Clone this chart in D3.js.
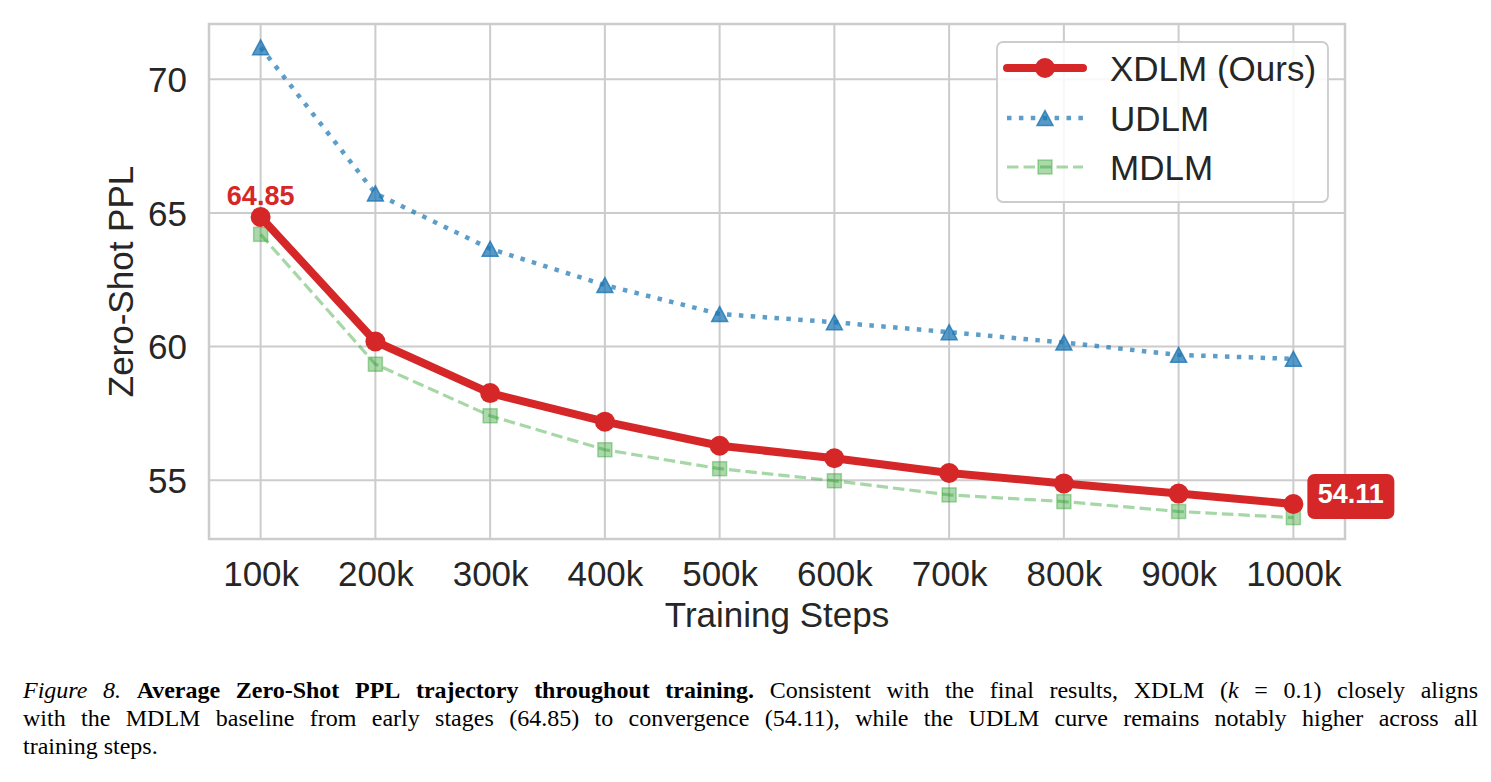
<!DOCTYPE html>
<html>
<head>
<meta charset="utf-8">
<script src="https://cdn.jsdelivr.net/npm/d3@7/dist/d3.min.js"></script>
<style>
  html, body { margin: 0; padding: 0; background: #ffffff; }
  svg { display: block; }
</style>
</head>
<body>
<svg id="chart" width="1491" height="782"></svg>
<script>
// ---------------- DATA ----------------
const steps = [100, 200, 300, 400, 500, 600, 700, 800, 900, 1000]; // thousands
const tickLabels = ["100k", "200k", "300k", "400k", "500k", "600k", "700k", "800k", "900k", "1000k"];
const yTicks = [55, 60, 65, 70];
const xdlm = [64.85, 60.19, 58.26, 57.19, 56.29, 55.82, 55.27, 54.88, 54.50, 54.11];
const udlm = [71.20, 65.73, 63.66, 62.30, 61.22, 60.91, 60.54, 60.15, 59.69, 59.54];
const mdlm = [64.20, 59.34, 57.41, 56.14, 55.43, 54.98, 54.45, 54.20, 53.83, 53.60];
const seriesNames = ["XDLM (Ours)", "UDLM", "MDLM"];
const startLabel = "64.85";
const endLabel = "54.11";
const xTitle = "Training Steps";
const yTitle = "Zero-Shot PPL";
const captionLines = [
  [{t: "Figure 8.", s: "italic"},
   {t: " Average Zero-Shot PPL trajectory throughout training.", s: "bold"},
   {t: " Consistent with the final results, XDLM (", s: "normal"},
   {t: "k", s: "italic"},
   {t: " = 0.1) closely aligns", s: "normal"}],
  [{t: "with the MDLM baseline from early stages (64.85) to convergence (54.11), while the UDLM curve remains notably higher across all", s: "normal"}],
  [{t: "training steps.", s: "normal"}]
];

// ---------------- LAYOUT ----------------
const svg = d3.select("#chart");
const L = 209, R = 1345, T = 24, B = 539;
const x = d3.scaleLinear().domain([55, 1045]).range([L, R]);
const y = d3.scaleLinear().domain([52.80, 72.07]).range([B, T]);

const RED = "#d62728", BLUE = "#1f77b4", GREEN = "#2ca02c";
const GRID = "#cccccc", TXT = "#262626";
const SANS = "'Liberation Sans', Arial, Helvetica, sans-serif";
const SERIF = "'Liberation Serif', 'Times New Roman', Times, serif";

// grid
const g = svg.append("g");
g.append("g").selectAll("line").data(steps).join("line")
  .attr("x1", d => x(d)).attr("x2", d => x(d))
  .attr("y1", T).attr("y2", B)
  .attr("stroke", GRID).attr("stroke-width", 2);
g.append("g").selectAll("line").data(yTicks).join("line")
  .attr("x1", L).attr("x2", R)
  .attr("y1", d => y(d)).attr("y2", d => y(d))
  .attr("stroke", GRID).attr("stroke-width", 2);

// axes (tick labels via d3 axes, no tick marks)
const xAxis = d3.axisBottom(x).tickValues(steps).tickFormat((d, i) => tickLabels[i]).tickSize(0).tickPadding(22);
const yAxis = d3.axisLeft(y).tickValues(yTicks).tickFormat(d3.format("d")).tickSize(0).tickPadding(22);
const gx = svg.append("g").attr("transform", `translate(0,${B})`).call(xAxis);
const gy = svg.append("g").attr("transform", `translate(${L},0)`).call(yAxis);
[gx, gy].forEach(a => {
  a.select(".domain").remove();
  a.selectAll("text").attr("font-family", SANS).attr("font-size", 35).attr("fill", TXT);
});
gx.selectAll("text").attr("dy", "0.71em");
gy.selectAll("text").attr("dy", "0.35em");

// frame
svg.append("rect").attr("x", L).attr("y", T).attr("width", R - L).attr("height", B - T)
  .attr("fill", "none").attr("stroke", GRID).attr("stroke-width", 2.5);

// axis titles
svg.append("text").attr("x", (L + R) / 2).attr("y", 627).attr("text-anchor", "middle")
  .attr("font-family", SANS).attr("font-size", 35).attr("fill", TXT).text(xTitle);
svg.append("text").attr("transform", `translate(133,${(T + B) / 2}) rotate(-90)`)
  .attr("text-anchor", "middle")
  .attr("font-family", SANS).attr("font-size", 35).attr("fill", TXT).text(yTitle);

// markers
function triPath(cx, cy, w, h) {
  const p = d3.path();
  p.moveTo(cx, cy - h / 2); p.lineTo(cx + w / 2, cy + h / 2); p.lineTo(cx - w / 2, cy + h / 2); p.closePath();
  return p.toString();
}
const line = vals => d3.line().x((d, i) => x(steps[i])).y(d => y(d))(vals);

// MDLM
const gm = svg.append("g");
gm.append("path").attr("d", line(mdlm)).attr("fill", "none").attr("stroke", GREEN)
  .attr("stroke-opacity", 0.42).attr("stroke-width", 3.2).attr("stroke-dasharray", "11.5 5");
gm.selectAll("rect").data(mdlm).join("rect")
  .attr("x", (d, i) => x(steps[i]) - 7).attr("y", d => y(d) - 7).attr("width", 14).attr("height", 14)
  .attr("fill", GREEN).attr("fill-opacity", 0.4).attr("stroke", GREEN).attr("stroke-opacity", 0.4).attr("stroke-width", 1.5);

// UDLM
const gu = svg.append("g");
gu.append("path").attr("d", line(udlm)).attr("fill", "none").attr("stroke", BLUE)
  .attr("stroke-opacity", 0.72).attr("stroke-width", 4.5).attr("stroke-dasharray", "4.5 7.4");
gu.selectAll("path.m").data(udlm).join("path").attr("class", "m")
  .attr("d", (d, i) => triPath(x(steps[i]), y(d), 16, 15))
  .attr("fill", BLUE).attr("fill-opacity", 0.75).attr("stroke", BLUE).attr("stroke-opacity", 0.8).attr("stroke-width", 1.5);

// XDLM
const gr = svg.append("g");
gr.append("path").attr("d", line(xdlm)).attr("fill", "none").attr("stroke", RED)
  .attr("stroke-width", 8).attr("stroke-linejoin", "round").attr("stroke-linecap", "round");
gr.selectAll("circle").data(xdlm).join("circle")
  .attr("cx", (d, i) => x(steps[i])).attr("cy", d => y(d)).attr("r", 10).attr("fill", RED);

// annotations
svg.append("text").attr("x", x(steps[0])).attr("y", y(xdlm[0]) - 12).attr("text-anchor", "middle")
  .attr("font-family", SANS).attr("font-weight", "bold").attr("font-size", 27).attr("fill", RED).text(startLabel);
const ex = x(steps[steps.length - 1]), ey = y(xdlm[xdlm.length - 1]);
svg.append("rect").attr("x", ex + 14).attr("y", ey - 30).attr("width", 87).attr("height", 45).attr("rx", 7)
  .attr("fill", RED);
svg.append("text").attr("x", ex + 14 + 43.5).attr("y", ey - 0.5).attr("text-anchor", "middle")
  .attr("font-family", SANS).attr("font-weight", "bold").attr("font-size", 27).attr("fill", "#ffffff").text(endLabel);

// legend
const lg = svg.append("g");
lg.append("rect").attr("x", 997).attr("y", 42).attr("width", 331).attr("height", 160).attr("rx", 6)
  .attr("fill", "#ffffff").attr("fill-opacity", 0.85).attr("stroke", GRID).attr("stroke-width", 1.8);
const rows = [68, 118, 167];
const lx1 = 1007, lx2 = 1083, lmx = 1045;
// XDLM
lg.append("line").attr("x1", lx1).attr("x2", lx2).attr("y1", rows[0]).attr("y2", rows[0])
  .attr("stroke", RED).attr("stroke-width", 8).attr("stroke-linecap", "round");
lg.append("circle").attr("cx", lmx).attr("cy", rows[0]).attr("r", 10).attr("fill", RED);
// UDLM
lg.append("line").attr("x1", lx1).attr("x2", lx2).attr("y1", rows[1]).attr("y2", rows[1])
  .attr("stroke", BLUE).attr("stroke-opacity", 0.72).attr("stroke-width", 4.5).attr("stroke-dasharray", "4.5 7.4");
lg.append("path").attr("d", triPath(lmx, rows[1], 16, 15))
  .attr("fill", BLUE).attr("fill-opacity", 0.75).attr("stroke", BLUE).attr("stroke-opacity", 0.8).attr("stroke-width", 1.5);
// MDLM
lg.append("line").attr("x1", lx1).attr("x2", lx2).attr("y1", rows[2]).attr("y2", rows[2])
  .attr("stroke", GREEN).attr("stroke-opacity", 0.42).attr("stroke-width", 3.2).attr("stroke-dasharray", "11.5 5");
lg.append("rect").attr("x", lmx - 7).attr("y", rows[2] - 7).attr("width", 14).attr("height", 14)
  .attr("fill", GREEN).attr("fill-opacity", 0.4).attr("stroke", GREEN).attr("stroke-opacity", 0.4).attr("stroke-width", 1.5);
lg.selectAll("text").data(seriesNames).join("text")
  .attr("x", 1110).attr("y", (d, i) => rows[i] + 12.5)
  .attr("font-family", SANS).attr("font-size", 35).attr("fill", TXT).text(d => d);

// caption (justified)
const capLeft = 23, capRight = 1478, capBase = [698, 726, 754], capSize = 24;
captionLines.forEach((segs, li) => {
  const words = [];
  let cur = null;
  segs.forEach(seg => {
    seg.t.split(" ").forEach((p, i) => {
      if (i > 0) cur = null;
      if (p === "") return;
      if (!cur) { cur = []; words.push(cur); }
      cur.push({t: p, s: seg.s});
    });
  });
  const els = words.map(w => {
    const t = svg.append("text").attr("y", capBase[li]).attr("font-family", SERIF)
      .attr("font-size", capSize).attr("fill", "#000");
    w.forEach(part => {
      t.append("tspan")
        .attr("font-style", part.s === "italic" ? "italic" : "normal")
        .attr("font-weight", part.s === "bold" ? "bold" : "normal")
        .text(part.t);
    });
    return t;
  });
  const widths = els.map(e => e.node().getComputedTextLength());
  const total = d3.sum(widths);
  const justify = li < captionLines.length - 1;
  const gap = justify ? (capRight - capLeft - total) / (els.length - 1) : capSize * 0.25;
  let cx = capLeft;
  els.forEach((e, i) => { e.attr("x", cx); cx += widths[i] + gap; });
});
</script>
</body>
</html>
